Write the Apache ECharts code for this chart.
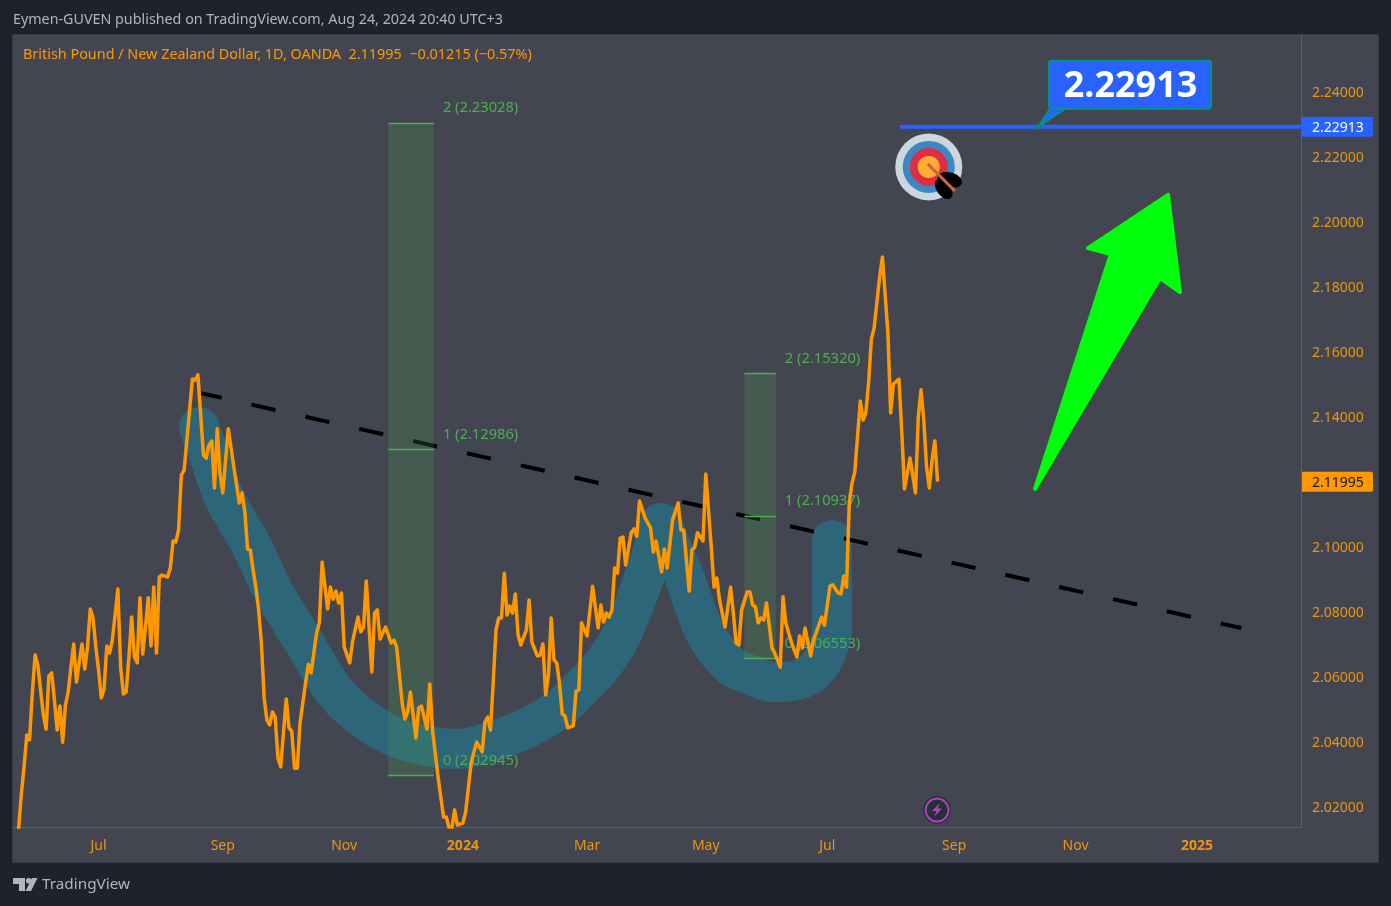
<!DOCTYPE html>
<html><head><meta charset="utf-8">
<style>html,body{margin:0;padding:0;background:#1e222d;overflow:hidden}#c{width:1391px;height:906px}</style>
<script src="https://cdn.jsdelivr.net/npm/echarts@6/dist/echarts.min.js"></script>
</head><body><div id="c"></div>
<script>
const headerText = 'Eymen-GUVEN published on TradingView.com, Aug 24, 2024 20:40 UTC+3';
const legendText = 'British Pound / New Zealand Dollar, 1D, OANDA  2.11995  \u22120.01215 (\u22120.57%)';
const yTicks = [2.02,2.04,2.06,2.08,2.10,2.14,2.16,2.18,2.20,2.22,2.24];
const xTickBars = [31,76,120,163,208,251,295,341,385,429];
const xTickLabels = ['Jul','Sep','Nov','2024','Mar','May','Jul','Sep','Nov','2025'];
const closePoints = [[2,2.0128],[3,2.0235],[4,2.0322],[5,2.0420],[6,2.0405],[7,2.0549],[8,2.0666],[9,2.0635],[10,2.0558],[11,2.0482],[12,2.0438],[13,2.0602],[14,2.0611],[15,2.0528],[16,2.0435],[17,2.0509],[18,2.0398],[19,2.0512],[20,2.0552],[21,2.0629],[22,2.0700],[23,2.0583],[24,2.0645],[25,2.0700],[26,2.0623],[27,2.0691],[28,2.0808],[29,2.0780],[30,2.0691],[31,2.0620],[32,2.0534],[33,2.0562],[34,2.0694],[35,2.0672],[36,2.0712],[38,2.0869],[39,2.0629],[40,2.0546],[41,2.0552],[42,2.0660],[43,2.0783],[44,2.0660],[45,2.0642],[46,2.0842],[47,2.0669],[48,2.0752],[49,2.0842],[50,2.0694],[51,2.0875],[52,2.0672],[53,2.0906],[54,2.0912],[56,2.0906],[57,2.0934],[58,2.1017],[59,2.1014],[60,2.1051],[61,2.1220],[62,2.1235],[65,2.1515],[66,2.1512],[67,2.1528],[69,2.1282],[70,2.1272],[71,2.1312],[72,2.1325],[73,2.1180],[74,2.1362],[75,2.1226],[76,2.1165],[78,2.1362],[80,2.1245],[82,2.1134],[83,2.1165],[84,2.1106],[85,2.0992],[86,2.0989],[87,2.0928],[88,2.0875],[89,2.0805],[90,2.0703],[91,2.0534],[92,2.0466],[93,2.0451],[94,2.0491],[95,2.0475],[96,2.0349],[97,2.0322],[99,2.0531],[100,2.0442],[101,2.0432],[102,2.0318],[103,2.0318],[104,2.0457],[106,2.0580],[107,2.0638],[108,2.0611],[110,2.0734],[111,2.0765],[112,2.0952],[114,2.0808],[115,2.0875],[116,2.0838],[117,2.0863],[118,2.0826],[119,2.0857],[120,2.0691],[122,2.0642],[123,2.0706],[125,2.0783],[126,2.0737],[127,2.0752],[128,2.0894],[130,2.0614],[131,2.0795],[132,2.0805],[133,2.0715],[135,2.0752],[137,2.0703],[138,2.0712],[139,2.0691],[141,2.0518],[142,2.0469],[143,2.0491],[144,2.0552],[146,2.0411],[147,2.0503],[148,2.0509],[150,2.0438],[151,2.0577],[152,2.0435],[154,2.0291],[156,2.0168],[157,2.0168],[158,2.0134],[159,2.0134],[160,2.0189],[161,2.0143],[163,2.0149],[164,2.0183],[166,2.0334],[167,2.0368],[168,2.0398],[170,2.0368],[171,2.0460],[172,2.0475],[173,2.0435],[174,2.0583],[175,2.0743],[176,2.0780],[177,2.0780],[178,2.0918],[179,2.0789],[180,2.0817],[181,2.0795],[182,2.0854],[183,2.0728],[184,2.0697],[186,2.0743],[187,2.0835],[188,2.0706],[190,2.0663],[191,2.0666],[192,2.0700],[193,2.0543],[194,2.0605],[195,2.0780],[196,2.0651],[197,2.0642],[198,2.0580],[199,2.0485],[200,2.0478],[201,2.0442],[203,2.0448],[204,2.0555],[205,2.0558],[206,2.0765],[208,2.0725],[210,2.0878],[212,2.0749],[213,2.0820],[214,2.0768],[215,2.0795],[216,2.0783],[217,2.0805],[218,2.0934],[219,2.0918],[220,2.1026],[221,2.1029],[222,2.0943],[224,2.1042],[225,2.1054],[226,2.1032],[227,2.1140],[229,2.1088],[231,2.1057],[232,2.0983],[233,2.1017],[235,2.0922],[236,2.0992],[237,2.0934],[239,2.1082],[241,2.1134],[242,2.1051],[243,2.1051],[245,2.0863],[246,2.0989],[247,2.0998],[248,2.1042],[250,2.1017],[251,2.1223],[253,2.0998],[254,2.0875],[255,2.0903],[256,2.0835],[258,2.0752],[260,2.0875],[261,2.0795],[262,2.0703],[263,2.0697],[264,2.0805],[266,2.0860],[267,2.0860],[268,2.0820],[269,2.0814],[270,2.0765],[271,2.0780],[272,2.0774],[273,2.0826],[275,2.0688],[276,2.0672],[278,2.0629],[279,2.0845],[280,2.0765],[282,2.0706],[284,2.0660],[285,2.0725],[286,2.0688],[287,2.0749],[289,2.0663],[290,2.0712],[291,2.0734],[293,2.0783],[294,2.0758],[296,2.0878],[297,2.0882],[299,2.0857],[300,2.0854],[301,2.0909],[302,2.0875],[303,2.1134],[304,2.1195],[305,2.1229],[307,2.1448],[308,2.1389],[309,2.1411],[310,2.1503],[311,2.1638],[312,2.1672],[314,2.1829],[315,2.1891],[317,2.1657],[318,2.1411],[319,2.1500],[321,2.1515],[322,2.1358],[323,2.1177],[325,2.1272],[327,2.1165],[328,2.1398],[329,2.1482],[330,2.1389],[331,2.1245],[332,2.1180],[333,2.1266],[334,2.1325],[335,2.11995]];
const cupHandlePoints = [[67.4,2.1368],[69.9,2.1309],[76.4,2.1152],[85.9,2.1011],[94.6,2.0857],[105.4,2.0706],[117,2.0549],[129.3,2.0457],[140.2,2.0408],[152.2,2.0383],[161.2,2.0377],[176.4,2.0408],[188.4,2.0451],[198.2,2.0503],[206.5,2.0571],[212.7,2.0626],[218.5,2.0697],[224.3,2.0805],[231.2,2.0968],[234.8,2.1072],[238,2.1005],[242.4,2.0925],[250.7,2.0737],[259.8,2.0635],[267,2.0605],[275.4,2.0583],[284.5,2.0590],[290.4,2.0618],[294.6,2.0673],[296.7,2.0743],[296.7,2.0866],[296.7,2.1020]];
const trendPoints = [[68,2.1472],[445,2.0749]];
const targetLinePoints = [[322,2.22913],[466.7,2.22913]];
const fibBoxes = [[136,152.5,2.02945,2.12986,2.23028],[265,276.4,2.06553,2.10937,2.15320]];
const arrowPoints = [[418.5,2.2082],[389.5,2.1918],[397.8,2.1900],[370.3,2.1177],[415.6,2.1826],[422.8,2.1783]];
const targetIcon = [331.8,2.2168];
const boltIcon = [334.8,2.0189];
const calloutAnchor = [371.4,2.22913];
const calloutText = '2.22913';
const priceTags = [[2.22913,'#2962ff','#ffffff'],[2.11995,'#ff9800','#131722']];
const UI = '"Noto Sans"';
const c = echarts.init(document.getElementById('c'));
const gtext=(x,y,t,col,size,w)=>({type:'text',z:50,style:{x,y,text:t,fill:col,font:(w||'normal')+' '+size+'px '+UI,textVerticalAlign:'middle'}});
c.setOption({
 animation:false,backgroundColor:'#1e222d',
 grid:{left:13,right:90,top:35,bottom:79,containLabel:false},
 xAxis:{type:'value',min:0,max:466.67,splitLine:{show:false},
  axisLine:{show:true,onZero:false,lineStyle:{color:'#5d606b',width:1}},axisTick:{show:false},
  axisLabel:{customValues:xTickBars,margin:12,fontFamily:UI,fontSize:14,color:'#ee9410',showMinLabel:true,showMaxLabel:true,
   formatter:v=>{const l=xTickLabels[xTickBars.indexOf(v)]||'';return /^\d/.test(l)?'{y|'+l+'}':l;},
   rich:{y:{fontFamily:UI,fontSize:14,fontWeight:'bold',color:'#ee9410'}}}},
 yAxis:{type:'value',position:'right',min:2.01369,max:2.25738,splitLine:{show:false},
  axisLine:{show:true,onZero:false,lineStyle:{color:'#5d606b',width:1}},axisTick:{show:false},
  axisLabel:{customValues:yTicks,margin:11,fontFamily:UI,fontSize:14,color:'#ee9410',formatter:v=>'{v|'+v.toFixed(5)+'}',
   rich:{v:{fontFamily:UI,fontSize:14,color:'#ee9410',padding:[4,0,0,0]}}}},
 graphic:[
  {type:'rect',z:-10,silent:true,shape:{x:12.5,y:34.5,width:1366,height:828},style:{fill:'#434651',stroke:'#363a45',lineWidth:1}},
  gtext(13,20,headerText,'#b2b5be',14.3),
  gtext(23,55,legendText,'#ff9800',14.4),
  gtext(42,884.5,'TradingView','#b2b5be',15.3),
  {type:'polygon',z:50,shape:{points:[[13,878],[25,878],[25,891],[19,891],[19,884],[13,884]]},style:{fill:'#b2b5be'}},
  {type:'circle',z:50,shape:{cx:28.7,cy:880.8,r:2.8},style:{fill:'#b2b5be'}},
  {type:'polygon',z:50,shape:{points:[[32,878],[37.5,878],[31,891],[25.5,891]]},style:{fill:'#b2b5be'}}
 ],
 series:[
  {name:'cup',type:'line',z:2,data:cupHandlePoints,smooth:0.3,showSymbol:false,symbol:'none',silent:true,
   lineStyle:{color:'rgba(32,122,146,0.62)',width:40,cap:'round',join:'round'}},
  {name:'trend',type:'line',z:3,data:trendPoints,showSymbol:false,symbol:'none',lineStyle:{color:'#000',width:4,type:[24.5,30.7],dashOffset:3}},
  {name:'fib',type:'custom',z:4,clip:false,data:fibBoxes,encode:{x:[0,1],y:[2,3,4]},
   renderItem:(p,api)=>{
    const x0=api.value(0),x1=api.value(1),L=[api.value(2),api.value(3),api.value(4)];
    const pts=L.map(v=>api.coord([x0,v])),xr=api.coord([x1,L[0]])[0],xl=pts[0][0];
    const ch=[{type:'rect',shape:{x:xl,y:pts[2][1],width:xr-xl,height:pts[0][1]-pts[2][1]},style:{fill:'rgba(76,175,80,0.2)'}}];
    L.forEach((v,i)=>{
     const ly=Math.floor(pts[i][1])+0.5;
     ch.push({type:'line',shape:{x1:xl,y1:ly,x2:xr,y2:ly},style:{stroke:'#4caf50',lineWidth:1.5}});
     ch.push({type:'text',style:{x:xr+9,y:pts[i][1]-15,text:i+' ('+v.toFixed(5)+')',fill:'#4caf50',font:'14.7px '+UI,textVerticalAlign:'middle'}});
    });
    return {type:'group',children:ch};
   }},
  {name:'arrow',type:'custom',z:5,clip:false,data:[0],
   renderItem:(p,api)=>({type:'polygon',shape:{points:arrowPoints.map(q=>api.coord(q))},style:{fill:'#00ff0c',stroke:'#00ff0c',lineWidth:4,lineJoin:'round'}})},
  {name:'target',type:'line',z:5,data:targetLinePoints,showSymbol:false,symbol:'none',lineStyle:{color:'#2962ff',width:4,cap:'round'}},
  {name:'close',type:'line',z:8,data:closePoints,showSymbol:false,symbol:'none',lineStyle:{color:'#ff9800',width:3.5,join:'round'}},
  {name:'icons',type:'custom',z:9,clip:false,data:[0],
   renderItem:(p,api)=>{
    const [x,y]=api.coord(targetIcon),[bx,by]=api.coord(boltIcon);
    const circ=(r,f)=>({type:'circle',shape:{cx:x,cy:y,r},style:{fill:f}});
    return {type:'group',children:[
     circ(33.5,'#ccd6dd'),circ(26,'#3b88c3'),circ(19,'#dd2e44'),circ(11,'#ffac33'),
     {type:'ellipse',x:x+21,y:y+13,rotation:-0.27,shape:{cx:0,cy:0,rx:12.5,ry:7.5},style:{fill:'#000'}},
     {type:'ellipse',x:x+15,y:y+22,rotation:-0.94,shape:{cx:0,cy:0,rx:11.5,ry:7},style:{fill:'#000'}},
     {type:'line',shape:{x1:x-1,y1:y-3,x2:x+26,y2:y+24},style:{stroke:'#c1694f',lineWidth:3}},
     {type:'circle',shape:{cx:bx,cy:by,r:13.5},style:{fill:'#1e222d'}},
     {type:'circle',shape:{cx:bx,cy:by,r:11.5},style:{fill:'#2a2e39',stroke:'#ab47bc',lineWidth:2}},
     {type:'polygon',shape:{points:[[bx+3,by-7],[bx-5,by+1],[bx-0.5,by+1],[bx-3,by+7],[bx+5,by-1.5],[bx+0.5,by-1.5]]},style:{fill:'#ab47bc'}}
    ]};
   }},
  {name:'callout',type:'custom',z:10,clip:false,data:[0],
   renderItem:(p,api)=>{
    const [x,y]=api.coord(calloutAnchor);
    return {type:'group',children:[
     {type:'polygon',shape:{points:[[x,y],[x+12,y-18],[x+27,y-18]]},style:{fill:'#2962ff',stroke:'#009688',lineWidth:2}},
     {type:'rect',shape:{x:x+11,y:y-66,width:162,height:48,r:3},style:{fill:'#2962ff',stroke:'#009688',lineWidth:2}},
     {type:'text',style:{x:x+92.5,y:y-40.5,text:calloutText,fill:'#fff',font:'bold 36px '+UI,textAlign:'center',textVerticalAlign:'middle'}},
     {type:'circle',shape:{cx:x,cy:y,r:2.5},style:{fill:'#009688',stroke:'#1e6b63',lineWidth:1}}
    ]};
   }},
  {name:'tags',type:'custom',z:11,clip:false,data:priceTags,encode:{y:0},
   renderItem:(p,api)=>{
    const y=api.coord([466.67,api.value(0)])[1],xx=api.coord([466.67,api.value(0)])[0],t=priceTags[p.dataIndex];
    return {type:'group',children:[
     {type:'rect',shape:{x:xx+1,y:y-10,width:71,height:20,r:[0,2,2,0]},style:{fill:t[1]}},
     {type:'text',style:{x:xx+11,y:y+1,text:t[0].toFixed(5),fill:t[2],font:'14px '+UI,textVerticalAlign:'middle'}}
    ]};
   }}
 ]
});
</script></body></html>
